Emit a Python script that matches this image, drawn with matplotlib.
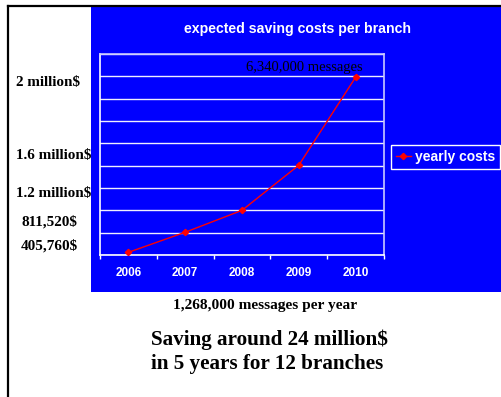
import matplotlib
matplotlib.use("Agg")
import matplotlib.pyplot as plt
from matplotlib.patches import Rectangle
from matplotlib.lines import Line2D

# ---- data ----
years = ["2006", "2007", "2008", "2009", "2010"]
yearly_costs = [30000, 255000, 500000, 1005000, 1990000]
series_name = "yearly costs"
left_labels = ["2 million$", "1.6 million$", "1.2 million$", "811,520$", "405,760$"]
title = "expected saving costs per branch"
peak_note = "6,340,000 messages"
bottom_note = "1,268,000 messages per year"
summary = "Saving around 24 million$\nin 5 years for 12 branches"

W, H = 502, 397
fig = plt.figure(figsize=(W / 100, H / 100), dpi=100)
fig.patch.set_facecolor("white")

def fx(x):
    return x / W

def fy(y):
    return 1 - y / H

BLUE = "#0000FF"

# blue chart area
fig.patches.append(Rectangle((fx(91), fy(292)), fx(502) - fx(91), fy(6) - fy(292),
                             transform=fig.transFigure, facecolor=BLUE, edgecolor="none", zorder=-1))
# black border lines (top and left)
fig.lines.append(Line2D([fx(8), fx(502)], [fy(6), fy(6)], transform=fig.transFigure,
                        color="black", lw=1.6))
fig.lines.append(Line2D([fx(8), fx(8)], [fy(6), fy(397)], transform=fig.transFigure,
                        color="black", lw=1.6))

ax = fig.add_axes([fx(100), fy(255), fx(384) - fx(100), fy(54) - fy(255)])
ax.set_zorder(2)
ax.set_facecolor(BLUE)
x = list(range(len(years)))
ax.plot(x, yearly_costs, color="#FF0000", lw=1.0, marker="D", ms=3.2,
        markerfacecolor="#FF0000", markeredgecolor="#FF0000", label=series_name, zorder=3)
ax.set_xlim(-0.5, len(years) - 0.5)
ax.set_ylim(0, 2250000)
ax.set_yticks([i * 250000 for i in range(10)])
ax.yaxis.grid(True, color="#EEEEFF", lw=1.0)
ax.tick_params(axis="y", length=0, labelleft=False)
ax.set_xticks(x)
ax.set_xticklabels(years, color="white", fontweight="bold", fontsize=8.5,
                   family=["Liberation Sans", "DejaVu Sans"])
ax.tick_params(axis="x", which="major", length=0, pad=9)
ax.set_xticks([i - 0.5 for i in range(len(years) + 1)], minor=True)
ax.tick_params(axis="x", which="minor", length=3, width=1, color="white", direction="out")
for s in ["left", "bottom"]:
    ax.spines[s].set_color("white")
    ax.spines[s].set_linewidth(1.2)
for s in ["top", "right"]:
    ax.spines[s].set_color("#C8C8FF")
    ax.spines[s].set_linewidth(1.2)

leg = ax.legend(loc="center left", bbox_to_anchor=(fx(391), fy(157)),
                bbox_transform=fig.transFigure, borderaxespad=0, frameon=True,
                fancybox=False, facecolor=BLUE, edgecolor="white", framealpha=1,
                handlelength=1.1, handletextpad=0.3, borderpad=0.35,
                prop={"family": ["Liberation Sans", "DejaVu Sans"], "weight": "bold", "size": 10})
for t in leg.get_texts():
    t.set_color("white")
leg.get_frame().set_linewidth(1.0)

sans = ["Liberation Sans", "DejaVu Sans"]
serif = ["Liberation Serif", "DejaVu Serif"]

fig.text(fx(298), fy(29.5), title, color="white", fontweight="bold", fontsize=10.2,
         family=sans, ha="center", va="center", zorder=3)

ax.annotate(peak_note, xy=(4, yearly_costs[4]), xytext=(fx(304.5), fy(67)),
            textcoords="figure fraction", ha="center", va="center",
            fontsize=10.5, family=serif, color="black")

# left annotations
left_pos = [(16, 82.5, "left"), (16, 155, "left"), (16, 193, "left"),
            (49.5, 221.7, "center"), (49.5, 245.7, "center")]
for lab, (px, py, ha) in zip(left_labels, left_pos):
    fig.text(fx(px), fy(py), lab, fontsize=10.9, fontweight="bold", family=serif,
             color="black", ha=ha, va="center", zorder=5)

fig.text(fx(265.5), fy(306), bottom_note, fontsize=11.1, fontweight="bold", family=serif,
         color="black", ha="center", va="center")
fig.text(fx(151), fy(352), summary, fontsize=15.2, fontweight="bold", family=serif,
         color="black", ha="left", va="center", linespacing=1.3)

fig.savefig("out.png", dpi=100, facecolor="white")
